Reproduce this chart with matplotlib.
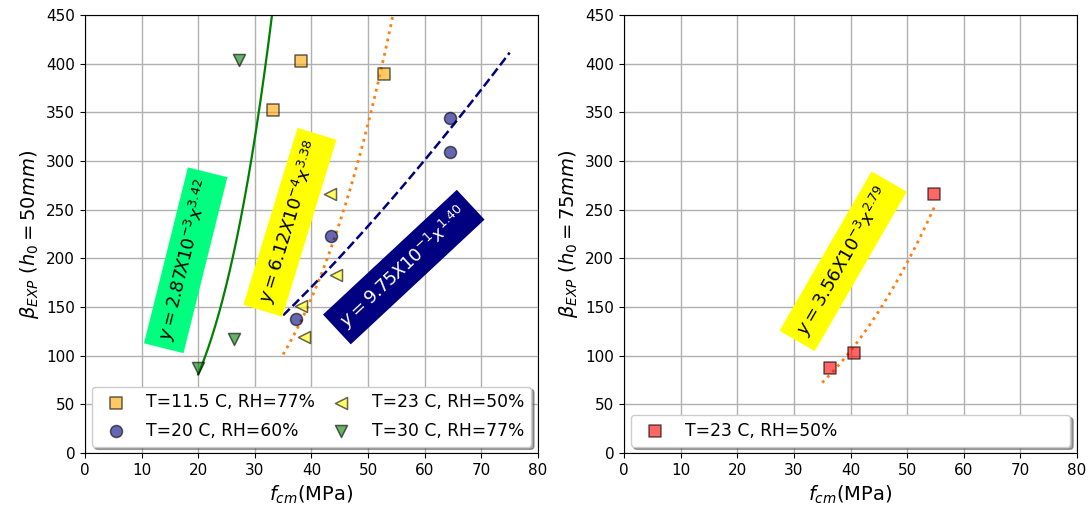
"""
Recreate beta_EXP vs f_cm scatter with power-law fits
"""
import matplotlib
matplotlib.use("Agg")
import matplotlib.pyplot as plt
import numpy as np

# left panel data (h0 = 50mm)
fcm_115 = [33.2, 38.2, 52.8]
beta_115 = [352, 403, 389]
fcm_20 = [64.5, 64.5, 43.5, 37.3]
beta_20 = [344, 309, 223, 138]
fcm_23 = [43.3, 44.3, 38.2, 38.7]
beta_23 = [266, 183, 151, 119]
fcm_30 = [27.2, 26.3, 20.0]
beta_30 = [404, 117, 87]

# right panel data (h0 = 75mm)
fcm_r = [36.3, 40.6, 54.8]
beta_r = [87, 103, 266]

# fits: (coef, exponent, x range)
fit_30 = (2.87e-3, 3.42, (20, 34))
fit_23 = (6.12e-4, 3.38, (35, 55))
fit_20 = (9.75e-1, 1.40, (35, 75))
fit_r = (3.56e-3, 2.79, (35, 55))


def power_curve(fit):
    coef, expo, (x0, x1) = fit
    x = np.linspace(x0, x1, 200)
    return x, coef * x ** expo


fig = plt.figure(figsize=(10.88, 5.12), dpi=100)
ax1 = fig.add_axes([0.078, 0.115, 0.4165, 0.856])
ax2 = fig.add_axes([0.5735, 0.115, 0.4165, 0.856])

sc_kw = dict(s=75, alpha=0.6, edgecolors="black", linewidths=1.1, zorder=3)

ax1.scatter(fcm_115, beta_115, marker="s", color="orange",
            label="T=11.5 C, RH=77%", **sc_kw)
ax1.scatter(fcm_20, beta_20, marker="o", color="navy",
            label="T=20 C, RH=60%", **sc_kw)
ax1.scatter(fcm_23, beta_23, marker="<", color="yellow",
            label="T=23 C, RH=50%", **sc_kw)
ax1.scatter(fcm_30, beta_30, marker="v", color="green",
            label="T=30 C, RH=77%", **sc_kw)

x, y = power_curve(fit_30)
ax1.plot(x, y, color="green", lw=1.6, zorder=2)
x, y = power_curve(fit_23)
ax1.plot(x, y, color="tab:orange", ls=":", lw=2, zorder=2)
x, y = power_curve(fit_20)
ax1.plot(x, y, color="navy", ls="--", lw=1.8, zorder=2)

ax1.text(17.8, 198, r"$y = 2.87X10^{-3}x^{3.42}$", rotation=76,
         ha="center", va="center", fontsize=13,
         bbox=dict(facecolor="springgreen", edgecolor="none", pad=6))
ax1.text(36.2, 237, r"$y = 6.12X10^{-4}x^{3.38}$", rotation=73,
         ha="center", va="center", fontsize=13,
         bbox=dict(facecolor="yellow", edgecolor="none", pad=6))
ax1.text(56.3, 191, r"$y = 9.75X10^{-1}x^{1.40}$", rotation=43,
         ha="center", va="center", fontsize=13, color="white",
         bbox=dict(facecolor="navy", edgecolor="none", pad=6))

ax2.scatter(fcm_r, beta_r, marker="s", color="red",
            label="T=23 C, RH=50%", **sc_kw)
x, y = power_curve(fit_r)
ax2.plot(x, y, color="tab:orange", ls=":", lw=2, zorder=2)
ax2.text(38.7, 197, r"$y = 3.56X10^{-3}x^{2.79}$", rotation=60,
         ha="center", va="center", fontsize=13,
         bbox=dict(facecolor="yellow", edgecolor="none", pad=6))

for ax, h0 in ((ax1, 50), (ax2, 75)):
    ax.set_xlim(0, 80)
    ax.set_ylim(0, 450)
    ax.set_xticks(np.arange(0, 81, 10))
    ax.set_yticks(np.arange(0, 451, 50))
    ax.tick_params(labelsize=11)
    ax.grid(True, color="#b0b0b0", lw=1)
    ax.set_axisbelow(True)
    ax.set_xlabel(r"$f_{cm}$(MPa)", fontsize=14)
    ax.set_ylabel(r"$\beta_{EXP}$ $(h_0 = %dmm)$" % h0, fontsize=14)
    ax.legend(loc="lower left", bbox_to_anchor=(0.015, 0.015, 0.97, 0.2),
              mode="expand", ncol=2, shadow=True, fontsize=12.3,
              borderaxespad=0, framealpha=1, labelspacing=0.6)

fig.savefig("out.png", dpi=100)
